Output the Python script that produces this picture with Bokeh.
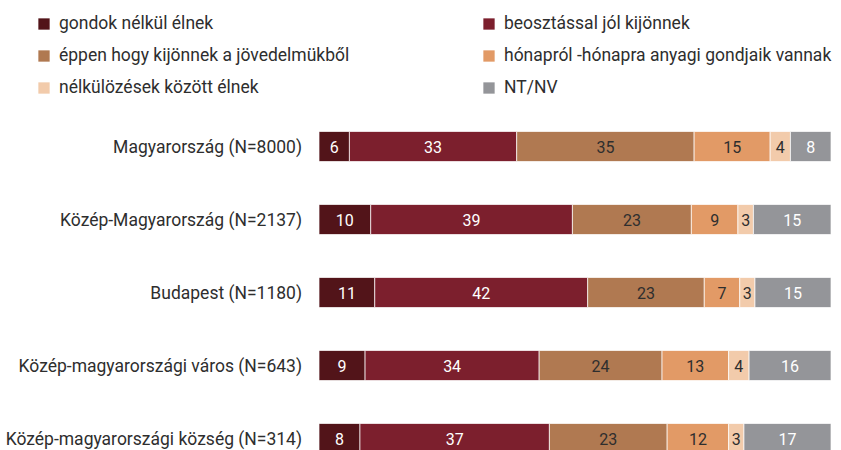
from bokeh.plotting import figure
from bokeh.models import ColumnDataSource, Range1d, Legend, LegendItem
from bokeh.embed import file_html
from bokeh.resources import INLINE
from bokeh.core.properties import value

regions = ["Magyarország (N=8000)", "Közép-Magyarország (N=2137)", "Budapest (N=1180)",
           "Közép-magyarországi város (N=643)", "Közép-magyarországi község (N=314)"]

series = ["gondok nélkül élnek", "beosztással jól kijönnek",
          "éppen hogy kijönnek a jövedelmükből", "hónapról -hónapra anyagi gondjaik vannak",
          "nélkülözések között élnek", "NT/NV"]

gondok = [6, 10, 11, 9, 8]
beosztas = [33, 39, 42, 34, 37]
eppen = [35, 23, 23, 24, 23]
honaprol = [15, 9, 7, 13, 12]
nelkulozes = [4, 3, 3, 4, 3]
ntnv = [8, 15, 15, 16, 17]

values = [gondok, beosztas, eppen, honaprol, nelkulozes, ntnv]
colors = ["#521419", "#7c1f2d", "#b07951", "#e29a66", "#f2cbab", "#949599"]
text_colors = ["white", "white", "#2e2e2e", "#2e2e2e", "#2e2e2e", "white"]

FONT = "Roboto"
W, H = 841, 450
bar_left_px, bar_right_px = 318.5, 830.5   # figure-pixel positions of 0 and 100
ppu = (bar_right_px - bar_left_px) / 100.0
row_pitch = 73.0
first_row_px = 146.0

x_range = Range1d(-bar_left_px / ppu, 100 + (W - bar_right_px) / ppu)
y_range = Range1d(4 + (H - first_row_px - 4 * row_pitch) / row_pitch, -first_row_px / row_pitch)

p = figure(width=W, height=H, x_range=x_range, y_range=y_range,
           output_backend="svg", toolbar_location=None,
           x_axis_type=None, y_axis_type=None, min_border=0,
           outline_line_color=None)
p.xgrid.visible = False
p.ygrid.visible = False

n = len(regions)
ys = list(range(n))
totals = [sum(v[i] for v in values) for i in range(n)]
cum = [0.0] * n
legend_items = []
for j, vals in enumerate(values):
    left = [cum[i] for i in range(n)]
    width = [vals[i] / totals[i] * 100.0 for i in range(n)]
    right = [left[i] + width[i] for i in range(n)]
    mid = [(left[i] + right[i]) / 2 for i in range(n)]
    cum = right
    src = ColumnDataSource(dict(y=ys, left=left, right=right, mid=mid,
                                label=[str(v) for v in vals]))
    r = p.hbar(y="y", left="left", right="right", height=30 / row_pitch, source=src,
               fill_color=colors[j], line_color="white", line_width=1, line_alpha=0.7)
    p.text(x="mid", y="y", text="label", source=src, text_align="center",
           text_baseline="middle", text_color=text_colors[j],
           text_font=value(FONT), text_font_size="16px")
    legend_items.append(LegendItem(label=series[j], renderers=[r]))

lab_src = ColumnDataSource(dict(x=[0] * n, y=ys, text=regions))
p.text(x="x", y="y", text="text", source=lab_src, x_offset=-17, text_align="right",
       text_baseline="middle", text_color="#2e2e2e", text_font=value(FONT),
       text_font_size="17.5px")

# legend fills column-first: reorder so it reads row by row like the reference
ncols = 2
nrows = (len(legend_items) + ncols - 1) // ncols
ordered = [legend_items[r * ncols + c] for c in range(ncols) for r in range(nrows)]

legend = Legend(items=ordered, ncols=ncols, location=(36, H - 97),
                glyph_width=15, glyph_height=15, label_height=15,
                label_standoff=8, label_width=410, spacing=12,
                padding=0, margin=0, border_line_color=None,
                background_fill_alpha=0, label_text_font=FONT,
                label_text_font_size="17.5px", label_text_color="#2e2e2e")
p.add_layout(legend)

open("out.html", "w").write(file_html(p, INLINE))
